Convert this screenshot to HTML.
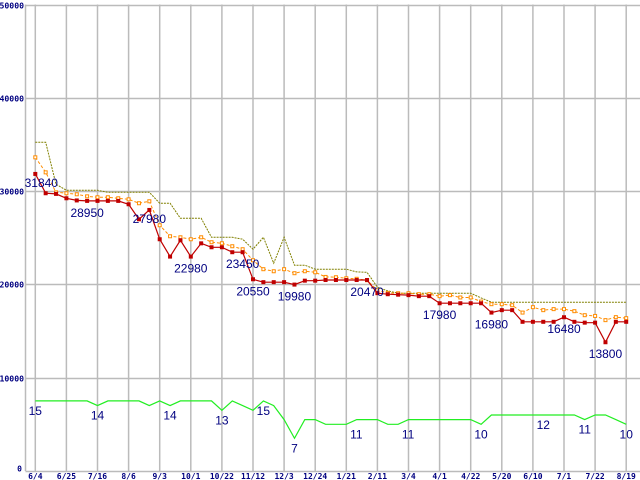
<!DOCTYPE html>
<html><head><meta charset="utf-8"><style>
html,body{margin:0;padding:0;background:#fff;}
svg{display:block;font-family:"Liberation Sans",sans-serif;}
.ax{font-family:"DejaVu Sans Mono","Liberation Mono",monospace;font-size:8px;font-weight:bold;fill:#000080;}
.lb{font-size:12px;fill:#000080;text-anchor:middle;}
</style></head><body>
<svg id="chart" width="640" height="480" viewBox="0 0 640 480" xmlns="http://www.w3.org/2000/svg"></svg>
<script>
const xLabels=["6/4","6/25","7/16","8/6","9/3","10/1","10/22","11/12","12/3","12/24","1/21","2/11","3/4","4/1","4/22","5/20","6/10","7/1","7/22","8/19"];
const yTicks=[0,10000,20000,30000,40000,50000];
const minPrice=[31840,29770,29700,29230,29000,28950,28950,28950,28950,28590,26980,27980,24840,22980,24730,22980,24400,23980,23980,23450,23450,20550,20240,20240,20240,19980,20400,20400,20470,20470,20470,20470,20470,19060,18950,18900,18850,18740,18740,17980,17980,17980,17980,17980,16980,17240,17240,15990,15990,15990,15990,16480,15990,15900,15900,13800,15990,15990];
const avgPrice=[33620,32010,29870,29770,29660,29440,29340,29340,29230,29120,28700,28910,26340,25160,25050,24840,25050,24520,24410,24090,23770,22590,21630,21410,21630,21200,21410,21300,20800,20770,20660,20600,20450,19380,19090,19050,19050,18950,18950,18740,18850,18600,18600,18160,17880,17880,17770,16980,17560,17240,17350,17350,17130,16700,16620,16170,16490,16380];
const maxPrice=[35230,35230,30730,30090,30090,30090,30090,29870,29870,29870,29870,29870,28700,28700,27090,27090,27090,25050,25050,25050,24840,23770,25050,22270,25050,22060,22060,21630,21630,21630,21630,21340,21300,19700,19300,19060,19060,19060,19060,19060,19060,19060,19060,18550,18090,18090,18090,18090,18090,18090,18090,18090,18090,18090,18090,18090,18090,18090];
const shopCount=[15,15,15,15,15,15,14,15,15,15,15,14,15,14,15,15,15,15,13,15,14,13,15,14,11,7,11,11,10,10,10,11,11,11,10,10,11,11,11,11,11,11,11,10,12,12,12,12,12,12,12,12,12,11,12,12,11,10];
const priceLabelIdx=[0,5,11,15,20,21,25,32,39,44,51,55];
const countLabelIdx=[0,6,13,18,22,25,30,35,43,49,53,57];
const countLabelText=["15","14","14","13","15","7","11","11","10","12","11","10"];

const svg=document.getElementById('chart');
const NS='http://www.w3.org/2000/svg';
const L=25.5,T=4.5,B=471,X0=35.3,GX=31.1,STEP=GX/3;
function xAt(i){return X0+i*STEP;}
function yAt(v){return B-(v/50000)*(B-T);}
function yCnt(c){return B-c*4.67;}
function mk(tag,attrs,parent){const e=document.createElementNS(NS,tag);for(const k in attrs)e.setAttribute(k,attrs[k]);(parent||svg).appendChild(e);return e;}

const grid=mk('g',{});


yTicks.forEach(v=>{
  const y=Math.round(yAt(v))+0.5;
  const ln=mk('line',{x1:L,x2:640,y1:y,y2:y,stroke:'#bbbbbb','stroke-width':1.5},grid);
  
  
  const s=String(v);
  const attrs={x:v===0?22:24,y:y+(v===0?0:3),class:'ax','text-anchor':'end'};
  if(s.length>1){attrs.textLength=s.length*4.9;attrs.lengthAdjust='spacingAndGlyphs';}
  const t=mk('text',attrs);
  t.textContent=s;
  
  
});
const ax=mk('line',{x1:L,x2:L,y1:T,y2:B,stroke:'#bbbbbb','stroke-width':1.5},grid);


xLabels.forEach((s,k)=>{
  const x=xAt(k*3);
  const ln=mk('line',{x1:x,x2:x,y1:T,y2:B,stroke:'#bbbbbb','stroke-width':1.5},grid);
  
  
  const t=mk('text',{x:x,y:479,class:'ax','text-anchor':'middle'});
  t.textContent=s;
  
  
});

function pts(arr,fy){return arr.map((v,i)=>xAt(i).toFixed(1)+','+fy(v).toFixed(1)).join(' ');}

const maxL=mk('polyline',{points:pts(maxPrice,yAt),fill:'none',stroke:'#808000','stroke-width':1,'stroke-dasharray':'2,1'});



const avgL=mk('polyline',{points:pts(avgPrice,yAt),fill:'none',stroke:'#ff8c00','stroke-width':1,'stroke-dasharray':'3,2'});


avgPrice.forEach((v,i)=>{
  const r=mk('rect',{x:xAt(i)-1.5,y:yAt(v)-1.5,width:3,height:3,fill:'#fff',stroke:'#ff8c00','stroke-width':1});
  
  
});

const minL=mk('polyline',{points:pts(minPrice,yAt),fill:'none',stroke:'#c00000','stroke-width':1.2});


minPrice.forEach((v,i)=>{
  const r=mk('rect',{x:xAt(i)-2,y:yAt(v)-2,width:4,height:4,fill:'#c00000'});
  
  
});

const cntL=mk('polyline',{points:pts(shopCount,yCnt),fill:'none',stroke:'#22ee22','stroke-width':1.2});



priceLabelIdx.forEach(i=>{
  const dx=i===0?6:0;
  const dy=i===0?13:(i===11?13:16);
  const t=mk('text',{x:xAt(i)+dx,y:yAt(minPrice[i])+dy,class:'lb'});
  t.textContent=String(minPrice[i]);
  
  
});
countLabelIdx.forEach((i,k)=>{
  const dx=(i===30||i===35)?10:0;
  const t=mk('text',{x:xAt(i)+dx,y:yCnt(shopCount[i])+14,class:'lb'});
  t.textContent=countLabelText[k];
  
  
});
</script>
</body></html>
